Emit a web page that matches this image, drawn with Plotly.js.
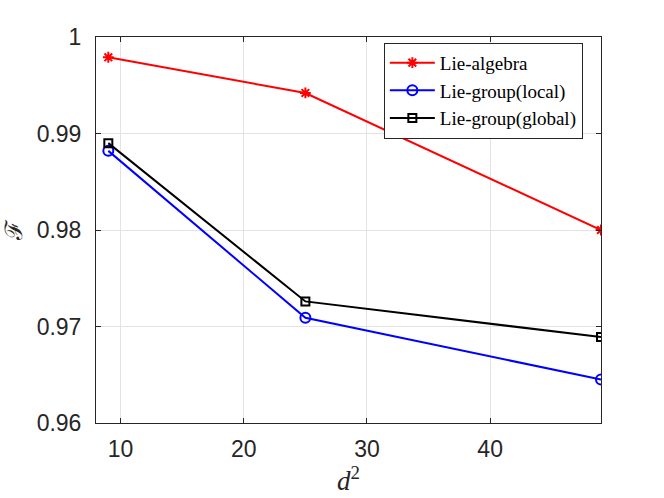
<!DOCTYPE html>
<html>
<head>
<meta charset="utf-8">
<script src="https://cdn.plot.ly/plotly-3.0.1.min.js"></script>
<style>
  body { margin: 0; background: #fff; }
  #chart { width: 664px; height: 498px; }
</style>
</head>
<body>
<div id="chart"></div>
<script>
// d^2 values along the x axis
let dSquared = [9, 25, 49];

// fidelity per method
let lieAlgebra = [0.9979, 0.9942, 0.9800];
let lieGroupLocal = [0.9882, 0.9709, 0.9645];
let lieGroupGlobal = [0.9890, 0.9726, 0.9689];

let seriesNames = ["Lie-algebra", "Lie-group(local)", "Lie-group(global)"];

let xTicks = [10, 20, 30, 40];
let yTicks = [0.96, 0.97, 0.98, 0.99, 1];
let yTickText = ["0.96", "0.97", "0.98", "0.99", "1"];

const axisColor = "#262626";
const gridColor = "#e3e3e3";

function makeTrace(y, name, color, symbol, size) {
  return {
    x: dSquared,
    y: y,
    name: name,
    mode: "lines+markers",
    line: { color: color, width: 2 },
    marker: { symbol: symbol, size: size, color: color, line: { color: color, width: 2 } },
  };
}

let traces = [
  makeTrace(lieAlgebra, seriesNames[0], "#ff0000", "asterisk-open", 9),
  makeTrace(lieGroupLocal, seriesNames[1], "#0000ff", "circle-open", 10),
  makeTrace(lieGroupGlobal, seriesNames[2], "#000000", "square-open", 8),
];

let layout = {
  width: 664,
  height: 498,
  margin: { l: 96, r: 63, t: 37, b: 75 },
  paper_bgcolor: "#ffffff",
  plot_bgcolor: "#ffffff",
  font: { family: "Liberation Sans, Arial, sans-serif", size: 23, color: axisColor },
  showlegend: true,
  legend: {
    x: 0.57,
    y: 0.985,
    xanchor: "left",
    yanchor: "top",
    bgcolor: "#ffffff",
    bordercolor: "#262626",
    borderwidth: 1,
    itemwidth: 45,
    font: { family: "Liberation Serif, DejaVu Serif, serif", size: 19, color: "#000000" },
    tracegroupgap: 0,
  },
  xaxis: {
    range: [8, 49],
    tickvals: xTicks,
    ticks: "inside",
    ticklen: 5,
    tickcolor: axisColor,
    ticklabelstandoff: 5,
    showgrid: true,
    gridcolor: gridColor,
    zeroline: false,
    showline: true,
    linecolor: axisColor,
    linewidth: 1,
    mirror: "ticks",
    title: {
      text: "<i>d</i><sup>2</sup>",
      font: { family: "Liberation Serif, DejaVu Serif, serif", size: 27, color: axisColor },
      standoff: 2,
    },
  },
  yaxis: {
    range: [0.96, 1],
    tickvals: yTicks,
    ticktext: yTickText,
    ticks: "inside",
    ticklen: 5,
    tickcolor: axisColor,
    ticklabelstandoff: 9,
    showgrid: true,
    gridcolor: gridColor,
    zeroline: false,
    showline: true,
    linecolor: axisColor,
    linewidth: 1,
    mirror: "ticks",
    title: {
      text: "ℱ",
      font: { family: "DejaVu Serif, serif", size: 24, color: axisColor },
      standoff: 8,
    },
  },
};

Plotly.newPlot("chart", traces, layout, { staticPlot: true, displayModeBar: false });
</script>
</body>
</html>
